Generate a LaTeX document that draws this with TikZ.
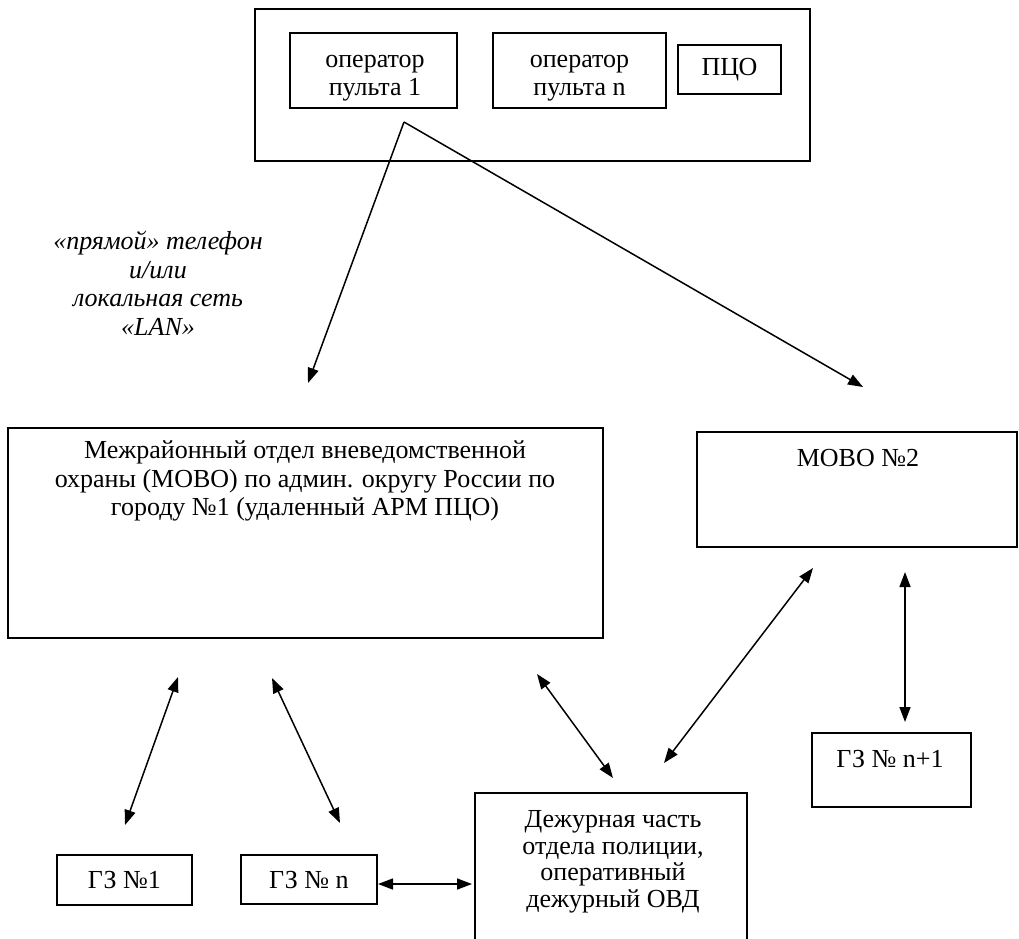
\documentclass[tikz,border=0pt]{standalone}
\usepackage{fontspec}
\setmainfont{Liberation Serif}
\usetikzlibrary{arrows.meta}
\tikzset{
  box/.style={draw, line width=1.8pt, inner sep=0pt, align=center, font=\fontsize{26}{28.5}\selectfont},
  txt/.style={inner sep=0pt, align=center, font=\fontsize{26}{28.5}\selectfont},
  link/.style={line width=1.5pt, -{Triangle[length=15pt,width=11pt]}},
  dlink/.style={line width=1.5pt, {Triangle[length=15pt,width=11pt]}-{Triangle[length=15pt,width=11pt]}},
}
\begin{document}
\begin{tikzpicture}[x=1pt,y=-1pt]
\useasboundingbox (0,0) rectangle (1019,938);
% top block
\node[box, minimum width=555pt, minimum height=152pt] (top) at (532.5,85) {};
\node[box, minimum width=167pt, minimum height=75pt] (op1) at (373.5,70.5) {};
\node[txt] (op1t) at (375,78) {оператор\\пульта 1};
\node[box, minimum width=173pt, minimum height=75pt] (opn) at (579.5,70.5) {};
\node[txt] (opnt) at (579.5,78) {оператор\\пульта n};
\node[box, minimum width=103pt, minimum height=49pt] (pco) at (729.5,69.5) {ПЦО};
% label
\node[txt, font=\fontsize{26}{28.5}\selectfont\itshape] (lbl) at (158,283) {«прямой» телефон\\и/или\\локальная сеть\\«LAN»};
% big box
\node[box, minimum width=595pt, minimum height=210pt] (mobo1) at (305.5,533) {};
\node[txt] (mobo1t) at (305,481) {Межрайонный отдел вневедомственной\\охраны (МОВО) по админ. округу России по\\городу №1 (удаленный АРМ ПЦО)};
% MOBO 2
\node[box, minimum width=320pt, minimum height=115pt] (mobo2) at (857,489.5) {};
\node[txt] (mobo2t) at (858,458) {МОВО №2};
% GZ n+1
\node[box, minimum width=159pt, minimum height=74pt] (gzn1) at (891.5,770) {};
\node[txt] (gzn1t) at (890,759) {ГЗ № n+1};
% GZ 1, GZ n
\node[box, minimum width=135pt, minimum height=50pt] (gz1) at (124.5,880) {ГЗ №1};
\node[box, minimum width=136pt, minimum height=49pt] (gzn) at (309,879.5) {ГЗ № n};
% duty
\node[box, minimum width=272pt, minimum height=157pt] (duty) at (611,871.5) {};
\node[txt, font=\fontsize{26}{26.5}\selectfont] (dutyt) at (613,862) {Дежурная часть\\отдела полиции,\\оперативный\\дежурный ОВД};
% connector ends
\coordinate (src) at (404,122);
\coordinate (a1) at (308,383);
\coordinate (a2) at (863,387);
\coordinate (b1) at (178,677);
\coordinate (b2) at (125,825);
\coordinate (c1) at (272,678);
\coordinate (c2) at (340,823);
\coordinate (d1) at (378,884);
\coordinate (d2) at (472,884);
\coordinate (e1) at (537,674);
\coordinate (e2) at (613,778);
\coordinate (f1) at (664,763);
\coordinate (f2) at (813,568);
\coordinate (g1) at (905,572);
\coordinate (g2) at (905,722);
% connectors
\draw[link] (src) -- (a1);
\draw[link] (src) -- (a2);
\draw[dlink] (b1) -- (b2);
\draw[dlink] (c1) -- (c2);
\draw[dlink] (d1) -- (d2);
\draw[dlink] (e1) -- (e2);
\draw[dlink] (f1) -- (f2);
\draw[dlink] (g1) -- (g2);
\end{tikzpicture}
\end{document}
